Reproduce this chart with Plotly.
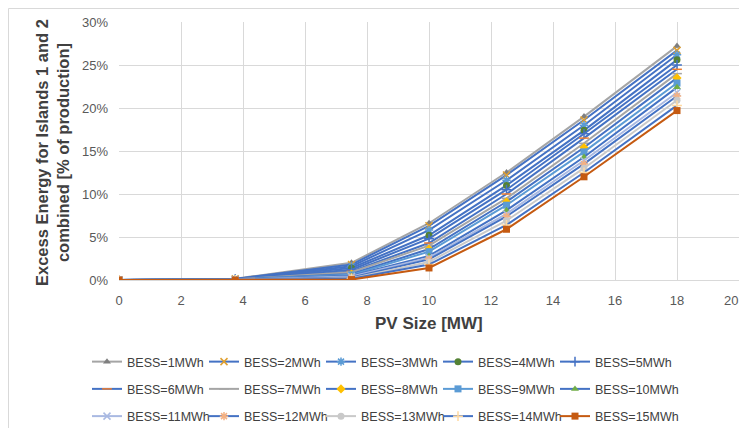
import plotly.graph_objects as go

pv_size = [0, 3.75, 7.5, 10, 12.5, 15, 18]

series_names = [f"BESS={i}MWh" for i in range(1, 16)]

# Excess energy in % of production, one list per BESS size
bess_1 = [0, 0.15, 2.0, 6.6, 12.5, 19.0, 27.2]
bess_2 = [0, 0.13, 1.8, 6.3, 12.2, 18.6, 26.7]
bess_3 = [0, 0.12, 1.6, 5.8, 11.6, 18.0, 26.2]
bess_4 = [0, 0.10, 1.4, 5.2, 11.0, 17.4, 25.6]
bess_5 = [0, 0.09, 1.2, 4.8, 10.5, 17.0, 25.0]
bess_6 = [0, 0.08, 1.0, 4.3, 10.0, 16.5, 24.5]
bess_7 = [0, 0.07, 0.9, 4.0, 9.5, 15.9, 24.0]
bess_8 = [0, 0.06, 0.7, 3.6, 9.1, 15.4, 23.5]
bess_9 = [0, 0.05, 0.6, 3.3, 8.7, 14.9, 22.9]
bess_10 = [0, 0.04, 0.5, 2.8, 8.1, 14.3, 22.4]
bess_11 = [0, 0.03, 0.4, 2.6, 7.7, 13.9, 21.8]
bess_12 = [0, 0.02, 0.3, 2.4, 7.4, 13.5, 21.4]
bess_13 = [0, 0.01, 0.2, 2.1, 6.9, 13.0, 20.9]
bess_14 = [0, 0.01, 0.15, 1.8, 6.4, 12.5, 20.3]
bess_15 = [0, 0.0, 0.05, 1.4, 5.9, 12.0, 19.7]

all_series = [bess_1, bess_2, bess_3, bess_4, bess_5, bess_6, bess_7, bess_8,
              bess_9, bess_10, bess_11, bess_12, bess_13, bess_14, bess_15]

x_ticks = [0, 2, 4, 6, 8, 10, 12, 14, 16, 18, 20]

BLUE = "#4472C4"
line_colors = ["#A5A5A5", BLUE, BLUE, BLUE, BLUE, BLUE, "#A5A5A5", BLUE,
               "#5B9BD5", BLUE, "#A9B9E2", BLUE, "#C9C9C9", BLUE, "#C55A11"]
marker_colors = ["#7F7F7F", "#E0A030", "#5B9BD5", "#548235", BLUE, "#ED7D31",
                 "#A5A5A5", "#FFC000", "#5B9BD5", "#70AD47", "#A9B9E2", "#F4B183",
                 "#C9C9C9", "#FFD9A0", "#C55A11"]
symbols = ["triangle-up", "x-thin", "asterisk", "circle", "cross-thin", "line-ew",
           "line-ew", "diamond", "square", "triangle-up", "x-thin", "asterisk",
           "circle", "cross-thin", "square"]
open_syms = {"x-thin", "asterisk", "cross-thin", "line-ew"}

# legend layout: 3 rows x 5 columns, one vertical legend per column
def legend_id(i):
    col = i % 5
    return "legend" if col == 0 else f"legend{col + 1}"

fig = go.Figure()
for i, (name, vals) in enumerate(zip(series_names, all_series)):
    sym = symbols[i]
    mk = dict(symbol=sym, size=7, color=marker_colors[i])
    if sym in open_syms:
        mk["line"] = dict(color=marker_colors[i], width=1.5)
    else:
        mk["line"] = dict(width=0)
    fig.add_trace(go.Scatter(
        x=pv_size, y=[v / 100 for v in vals], name=name,
        mode="lines+markers",
        line=dict(color=line_colors[i], width=2),
        marker=mk,
        legend=legend_id(i),
        legendgroup=f"g{i}",
    ))

# page has an 8px body margin; figure coords = page coords - 8
OFF = 8
W, H = 747 - OFF, 428 - OFF
PL, PR, PT, PB = 119, 739, 22, 280          # plot area in page pixels
L, R, T, B = PL - OFF, W - (PR - OFF), PT - OFF, H - (PB - OFF)
pw, ph = PR - PL, PB - PT

def px(xp):
    return (xp - PL) / pw

def py(yp):
    return (PB - yp) / ph

font = "Liberation Sans"
legends = {}
for c in range(5):
    legends["legend" if c == 0 else f"legend{c + 1}"] = dict(
        orientation="v", xanchor="left", yanchor="middle",
        x=px(87 + c * 117), y=py(389),
        font=dict(family=font, size=12.5, color="#404040"),
        bgcolor="rgba(0,0,0,0)", itemwidth=30, traceorder="grouped",
        tracegroupgap=8)

tick_text = [str(v) for v in x_ticks[:-1]] + [""]

fig.update_layout(
    width=W, height=H,
    margin=dict(l=L, r=R, t=T, b=B, autoexpand=False),
    paper_bgcolor="white", plot_bgcolor="white",
    showlegend=True,
    **legends,
    xaxis=dict(range=[0, 20], tickvals=x_ticks, ticktext=tick_text,
               showgrid=True, gridcolor="#D9D9D9",
               gridwidth=1, zeroline=False, showline=True, linecolor="#D9D9D9",
               ticks="", ticklabelstandoff=8, automargin=False,
               tickfont=dict(family=font, size=13, color="#595959")),
    yaxis=dict(range=[0, 0.30], dtick=0.05, tickformat=".0%", showgrid=True,
               gridcolor="#D9D9D9", gridwidth=1, zeroline=False, showline=False,
               ticks="", ticklabelstandoff=10, automargin=False,
               tickfont=dict(family=font, size=13, color="#595959")),
    annotations=[
        dict(text=str(x_ticks[-1]), x=x_ticks[-1], xref="x", y=py(300), yref="paper",
             showarrow=False, xanchor="right", yanchor="middle", xshift=1,
             font=dict(family=font, size=13, color="#595959")),
        dict(text="<b>PV Size [MW]</b>", x=px(429), y=py(323), xref="paper", yref="paper",
             showarrow=False, xanchor="center", yanchor="middle",
             font=dict(family=font, size=17, color="#404040")),
        dict(text="<b>Excess Energy for Islands 1 and 2<br>combined [% of production]</b>",
             x=px(52), y=py(153), xref="paper", yref="paper", textangle=-90,
             showarrow=False, xanchor="center", yanchor="middle",
             font=dict(family=font, size=16.5, color="#404040")),
    ],
    shapes=[dict(type="rect", xref="paper", yref="paper",
                 x0=px(8.5), x1=px(745), y0=py(460), y1=py(8.5),
                 line=dict(color="#D9D9D9", width=1), fillcolor="rgba(0,0,0,0)",
                 layer="below")],
)

fig.write_html("out.html")
